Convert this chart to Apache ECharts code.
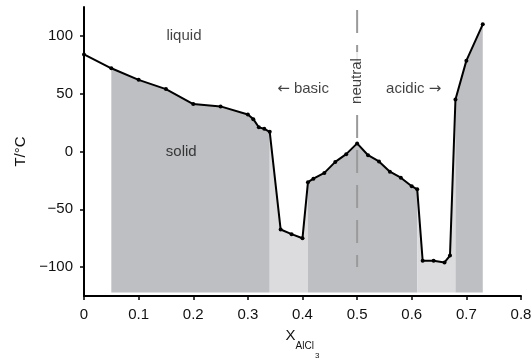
<!DOCTYPE html>
<html>
<head>
<meta charset="utf-8">
<script src="https://cdn.jsdelivr.net/npm/echarts@6/dist/echarts.min.js"></script>
<style>
  html, body { margin: 0; padding: 0; background: #fff; }
  #chart { width: 531px; height: 358px; }
</style>
</head>
<body>
<div id="chart"></div>
<script>
// Melting-point curve of the chloroaluminate system: T (°C) vs mole fraction of AlCl3
const compositionX = [0, 0.05, 0.10, 0.15, 0.20, 0.25, 0.30, 0.31, 0.32, 0.33, 0.34,
  0.36, 0.38, 0.40, 0.41, 0.42, 0.44, 0.46, 0.48, 0.50, 0.52, 0.54, 0.56, 0.58, 0.60,
  0.61, 0.62, 0.64, 0.66, 0.67, 0.68, 0.70, 0.73];
const meltingT = [84, 72, 62, 54, 41, 39, 32, 28, 21, 19.6, 17,
  -67.5, -71.5, -75, -26.5, -23.5, -18.5, -9, -2.3, 7, -3.2, -8.6, -17.5, -22.7, -30,
  -32.7, -94.5, -94.5, -96, -90, 45, 78.6, 110];

// Shaded solid regions: [from, to, shade]
const regionFrom = [0.05, 0.34, 0.41, 0.61, 0.68];
const regionTo   = [0.34, 0.41, 0.61, 0.68, 0.73];
const regionShade = ['dark', 'light', 'dark', 'light', 'dark'];

const yTicks = [-100, -50, 0, 50, 100];
const neutralX = 0.5;
const neutralSpan = [-100, 125];

// Region annotations: text, x, T
const noteText = ['liquid', 'solid', '{a|\u2190} basic', 'acidic {a|\u2192}'];
const noteX = [0.183, 0.178, 0.401, 0.6035];
const noteT = [100, -0.5, 54, 54];

const shadeColor = { dark: '#bebfc2', light: '#dcdcde' };
const FONT = '"Liberation Sans", Arial, Helvetica, sans-serif';
const TEXT = '#111111';
const minus = v => String(v).replace('-', '\u2212');

const curve = compositionX.map((x, i) => [x, meltingT[i]]);

const fillSeries = regionFrom.map((a, k) => ({
  type: 'line',
  data: curve.filter(p => p[0] >= a - 1e-9 && p[0] <= regionTo[k] + 1e-9),
  symbol: 'none',
  lineStyle: { width: 0, opacity: 0 },
  areaStyle: { color: shadeColor[regionShade[k]], opacity: 1, origin: -122 },
  silent: true,
  z: 1
}));

const chart = echarts.init(document.getElementById('chart'), null, { renderer: 'canvas' });
chart.setOption({
  animation: false,
  backgroundColor: '#ffffff',
  textStyle: { fontFamily: FONT },
  grid: { left: 84, right: 10, top: 7, bottom: 62, containLabel: false, outerBoundsMode: 'none' },
  xAxis: {
    type: 'value', min: 0, max: 0.8, interval: 0.1,
    splitLine: { show: false },
    axisLine: { onZero: false, lineStyle: { color: '#000', width: 2 } },
    axisTick: { inside: false, length: 4, lineStyle: { color: '#000', width: 1.5 } },
    axisLabel: { color: TEXT, fontSize: 15, fontFamily: FONT, margin: 11,
      formatter: v => minus(Math.round(v * 10) / 10) },
    name: '{x|X}{s|AlCl}{t|3}',
    nameLocation: 'middle',
    nameGap: 32,
    nameTextStyle: {
      color: TEXT, fontFamily: FONT, verticalAlign: 'top',
      rich: {
        x: { fontSize: 15, fontFamily: FONT, color: TEXT, verticalAlign: 'top', padding: [0, 0, 0, 0] },
        s: { fontSize: 10, fontFamily: FONT, color: TEXT, verticalAlign: 'top', padding: [13, 0, 0, 0] },
        t: { fontSize: 8, fontFamily: FONT, color: TEXT, verticalAlign: 'top', padding: [24, 0, 0, 1] }
      }
    }
  },
  yAxis: {
    type: 'value', min: -125, max: 125,
    splitLine: { show: false },
    axisLine: { onZero: false, lineStyle: { color: '#000', width: 2 } },
    axisTick: { inside: false, length: 4, customValues: yTicks, lineStyle: { color: '#000', width: 1.5 } },
    axisLabel: { color: TEXT, fontSize: 15, fontFamily: FONT, margin: 11,
      customValues: yTicks, formatter: v => minus(v) },
    name: 'T/°C',
    nameLocation: 'middle',
    nameRotate: 90,
    nameGap: 56,
    nameTextStyle: { color: TEXT, fontSize: 15, fontFamily: FONT }
  },
  series: [
    ...fillSeries,
    {
      name: 'neutral',
      type: 'line',
      data: [[neutralX, neutralSpan[0]], [neutralX, neutralSpan[1]]],
      symbol: 'none',
      lineStyle: { color: '#9a9a9a', width: 2, type: [23, 12], dashOffset: 11 },
      z: 3
    },
    {
      name: 'neutral-label',
      type: 'scatter',
      data: [[neutralX, 61]],
      symbolSize: 0,
      z: 4,
      label: {
        show: true, position: 'inside', formatter: 'neutral', rotate: 90,
        fontSize: 15, fontFamily: FONT, color: TEXT,
        backgroundColor: '#ffffff', padding: [1, 6, 1, 6]
      }
    },
    {
      name: 'liquidus',
      type: 'line',
      data: curve,
      symbol: 'circle',
      symbolSize: 4,
      itemStyle: { color: '#000' },
      lineStyle: { color: '#000', width: 2 },
      z: 5
    },
    {
      name: 'notes',
      type: 'scatter',
      data: noteText.map((t, i) => ({ value: [noteX[i], noteT[i]], name: t })),
      symbolSize: 0,
      z: 6,
      label: {
        show: true, position: 'inside', formatter: p => p.name,
        fontSize: 15, fontFamily: FONT, color: TEXT,
        rich: {
          a: { fontSize: 15, fontFamily: '"DejaVu Sans", sans-serif', color: TEXT }
        }
      }
    }
  ]
});
</script>
</body>
</html>
